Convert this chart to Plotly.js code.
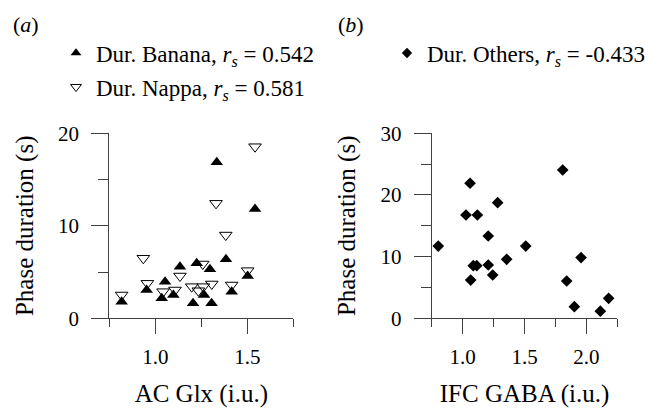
<!DOCTYPE html>
<html>
<head>
<meta charset="utf-8">
<script src="https://cdn.plot.ly/plotly-3.0.1.min.js"></script>
<style>html,body{margin:0;padding:0;background:#fff;}#chart{width:645px;height:414px;}</style>
</head>
<body>
<div id="chart"></div>
<script>
// Panel (a): AC Glx vs phase duration
const bananaX = [0.817, 0.953, 1.053, 1.035, 1.098, 1.134, 1.205, 1.225, 1.265, 1.297, 1.306, 1.334, 1.384, 1.415, 1.502, 1.542];
const bananaY = [1.79, 3.06, 3.96, 2.16, 2.52, 5.58, 1.62, 5.95, 2.52, 5.30, 1.62, 16.86, 6.38, 2.88, 4.57, 11.82];
const nappaX  = [0.817, 0.935, 0.957, 1.042, 1.107, 1.134, 1.198, 1.234, 1.258, 1.261, 1.307, 1.330, 1.383, 1.415, 1.502, 1.542];
const nappaY  = [2.52, 6.49, 3.78, 2.88, 3.06, 4.57, 3.42, 2.98, 5.87, 3.42, 3.71, 12.43, 9.00, 3.60, 5.15, 18.55];
// Panel (b): IFC GABA vs phase duration
const othersX = [0.803, 1.027, 1.060, 1.065, 1.086, 1.114, 1.119, 1.207, 1.207, 1.243, 1.283, 1.356, 1.510, 1.809, 1.841, 1.903, 1.957, 2.113, 2.180];
const othersY = [11.72, 16.75, 21.9, 6.2, 8.53, 8.53, 16.75, 13.35, 8.64, 7.02, 18.75, 9.57, 11.72, 24.05, 6.05, 1.89, 9.84, 1.15, 3.24];

const seriesNames = [
  'Dur. Banana, <i>r</i><sub><i>s</i></sub> = 0.542',
  'Dur. Nappa, <i>r</i><sub><i>s</i></sub> = 0.581',
  'Dur. Others, <i>r</i><sub><i>s</i></sub> = -0.433'
];
const xTitles = ['AC Glx (i.u.)', 'IFC GABA (i.u.)'];
const yTitle = 'Phase duration (s)';
const panelLabels = ['(<i>a</i>)', '(<i>b</i>)'];

const FONT = 'Liberation Serif, Times New Roman, serif';
const AX = '#404040';

const traces = [
  {x: bananaX, y: bananaY, type: 'scatter', mode: 'markers', xaxis: 'x', yaxis: 'y', showlegend: false, cliponaxis: false,
   marker: {symbol: 'triangle-up', size: 11, color: '#000'}},
  {x: nappaX, y: nappaY, type: 'scatter', mode: 'markers', xaxis: 'x', yaxis: 'y', showlegend: false, cliponaxis: false,
   marker: {symbol: 'triangle-down-open', size: 11, color: '#000', line: {width: 1, color: '#000'}}},
  {x: othersX, y: othersY, type: 'scatter', mode: 'markers', xaxis: 'x2', yaxis: 'y2', showlegend: false, cliponaxis: false,
   marker: {symbol: 'diamond', size: 9, color: '#000'}},
  // legend entries
  {x: [null], y: [null], type: 'scatter', mode: 'markers', name: seriesNames[0], legend: 'legend', legendgroup: 'a1', xaxis: 'x', yaxis: 'y',
   marker: {symbol: 'triangle-up', size: 9.5, color: '#000'}},
  {x: [null], y: [null], type: 'scatter', mode: 'markers', name: seriesNames[1], legend: 'legend', legendgroup: 'a2', xaxis: 'x', yaxis: 'y',
   marker: {symbol: 'triangle-down-open', size: 9.5, color: '#000', line: {width: 1, color: '#000'}}},
  {x: [null], y: [null], type: 'scatter', mode: 'markers', name: seriesNames[2], legend: 'legend2', legendgroup: 'b1', xaxis: 'x2', yaxis: 'y2',
   marker: {symbol: 'diamond', size: 8, color: '#000'}}
];

function xAxis(domain, range, title, anchor) {
  return {
    domain: domain, range: range, anchor: anchor, showgrid: false, zeroline: false,
    showline: true, linecolor: AX, linewidth: 1,
    ticks: 'outside', ticklen: 15, tickcolor: AX, tickwidth: 1, tick0: 1.0, dtick: 0.5, tickformat: '.1f',
    ticklabelstandoff: 4,
    minor: {ticks: 'outside', ticklen: 8, tickcolor: AX, tickwidth: 1, tick0: 0.75, dtick: 0.25, showgrid: false},
    tickfont: {family: FONT, size: 21, color: '#000'},
    title: {text: title, font: {family: FONT, size: 25, color: '#000'}, standoff: 16},
    automargin: false
  };
}
function yAxis(domain, range, anchor) {
  return {
    domain: domain, range: range, anchor: anchor, showgrid: false, zeroline: false,
    showline: true, linecolor: AX, linewidth: 1,
    ticks: 'outside', ticklen: 17, tickcolor: AX, tickwidth: 1, tick0: 0, dtick: 10,
    ticklabelstandoff: 8,
    minor: {ticks: 'outside', ticklen: 10, tickcolor: AX, tickwidth: 1, tick0: 0, dtick: 5, showgrid: false},
    tickfont: {family: FONT, size: 21, color: '#000'},
    title: {text: yTitle, font: {family: FONT, size: 25, color: '#000'}, standoff: 17},
    automargin: false
  };
}

const W = 645, H = 414;
const yDom = [(H - 318.3) / H, (H - 133.3) / H];

const layout = {
  width: W, height: H,
  margin: {l: 0, r: 0, t: 0, b: 0, autoexpand: false},
  paper_bgcolor: '#fff', plot_bgcolor: '#fff',
  font: {family: FONT, size: 20, color: '#000'},
  xaxis: xAxis([109.3 / W, 293.3 / W], [0.75, 1.75], xTitles[0], 'y'),
  yaxis: yAxis(yDom, [0, 20], 'x'),
  xaxis2: xAxis([431.7 / W, 617.3 / W], [0.75, 2.25], xTitles[1], 'y2'),
  yaxis2: yAxis(yDom, [0, 30], 'x2'),
  legend: {x: 56 / W, xanchor: 'left', y: 1 - 31.5 / H, yanchor: 'top', bgcolor: 'rgba(0,0,0,0)', borderwidth: 0,
           traceorder: 'grouped', tracegroupgap: 1, font: {family: FONT, size: 23, color: '#000'}},
  legend2: {x: 387 / W, xanchor: 'left', y: 1 - 31.5 / H, yanchor: 'top', bgcolor: 'rgba(0,0,0,0)', borderwidth: 0,
            font: {family: FONT, size: 23, color: '#000'}},
  annotations: [
    {text: panelLabels[0], xref: 'paper', yref: 'paper', x: 11 / W, y: 1 - 24 / H, xanchor: 'left', yanchor: 'middle', showarrow: false,
     font: {family: FONT, size: 22, color: '#000'}},
    {text: panelLabels[1], xref: 'paper', yref: 'paper', x: 336 / W, y: 1 - 24 / H, xanchor: 'left', yanchor: 'middle', showarrow: false,
     font: {family: FONT, size: 22, color: '#000'}}
  ]
};

Plotly.newPlot('chart', traces, layout, {displayModeBar: false, staticPlot: true});
</script>
</body>
</html>
